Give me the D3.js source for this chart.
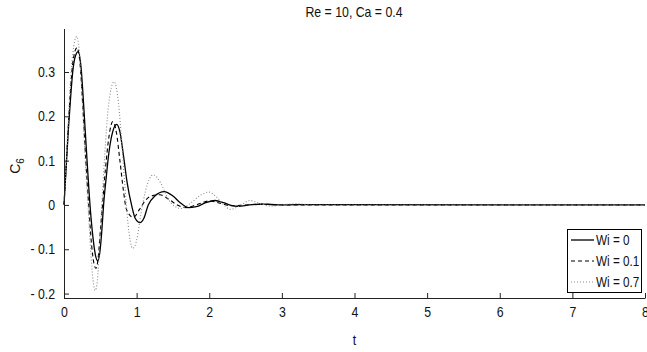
<!DOCTYPE html>
<html><head><meta charset="utf-8">
<script src="https://cdn.jsdelivr.net/npm/d3@7"></script>
<style>
body{margin:0;background:#fff}
svg{display:block}
text{font-family:"Liberation Sans",Arial,sans-serif;fill:#111}
</style>
</head><body>
<svg id="c" width="647" height="352"></svg>
<script>
// ---- data ----
const title = "Re = 10, Ca = 0.4";
const xTicks = [0,1,2,3,4,5,6,7,8];
const yTicks = [-0.2,-0.1,0,0.1,0.2,0.3];
const yTickLabels = ["- 0.2","- 0.1","0","0.1","0.2","0.3"];
const seriesNames = ["Wi = 0","Wi = 0.1","Wi = 0.7"];

const tWi0 = [0,0.03,0.06,0.09,0.12,0.155,0.197,0.235,0.275,0.31,0.358,0.40,0.435,0.464,0.495,0.52,0.545,0.58,0.62,0.67,0.725,0.77,0.82,0.87,0.93,0.98,1.047,1.10,1.16,1.25,1.38,1.5,1.6,1.71,1.82,1.95,2.08,2.2,2.3,2.4,2.55,2.75,2.95,3.2,8];
const cWi0 = [0,0.085,0.17,0.24,0.30,0.335,0.346,0.31,0.214,0.12,0.0,-0.075,-0.115,-0.126,-0.105,-0.06,0.0,0.06,0.12,0.165,0.182,0.165,0.11,0.05,0.0,-0.03,-0.04,-0.03,0.0,0.02,0.03,0.02,0.005,-0.006,-0.004,0.005,0.01,0.005,-0.001,-0.003,0,0.002,0,0.0005,0];

const tWi01 = [0,0.03,0.06,0.09,0.12,0.18,0.22,0.26,0.30,0.34,0.38,0.41,0.44,0.47,0.50,0.53,0.57,0.62,0.67,0.72,0.77,0.82,0.86,0.955,1.04,1.12,1.2,1.32,1.45,1.56,1.68,1.82,2.0,2.15,2.3,2.5,2.7,3.0,8];
const cWi01 = [0,0.09,0.18,0.26,0.32,0.355,0.32,0.22,0.10,0.0,-0.09,-0.13,-0.143,-0.12,-0.06,0.0,0.08,0.155,0.188,0.165,0.10,0.03,-0.01,-0.028,-0.01,0.01,0.02,0.023,0.012,0.0,-0.006,0.0,0.009,0.004,-0.002,0,0.002,0,0];

const tWi07 = [0,0.03,0.06,0.09,0.12,0.175,0.21,0.25,0.29,0.33,0.37,0.40,0.43,0.46,0.49,0.52,0.56,0.61,0.69,0.75,0.80,0.84,0.88,0.946,1.0,1.06,1.12,1.23,1.33,1.43,1.52,1.62,1.75,1.88,1.99,2.1,2.2,2.29,2.42,2.56,2.7,2.85,3.0,3.2,3.4,8];
const cWi07 = [0,0.09,0.19,0.28,0.34,0.38,0.35,0.24,0.11,0.0,-0.11,-0.17,-0.193,-0.17,-0.09,0.0,0.11,0.22,0.278,0.23,0.13,0.04,-0.04,-0.098,-0.08,-0.02,0.03,0.068,0.05,0.015,-0.003,-0.008,0.005,0.022,0.029,0.018,0.0,-0.01,-0.002,0.01,0.003,-0.003,0,0.003,0,0];

// ---- chart ----
const SX = 0.88; // horizontal squeeze of the reference lettering
const svg = d3.select("#c");
const x = d3.scaleLinear().domain([0,8]).range([64,645]);
const y = d3.scaleLinear().domain([-0.21,0.397]).range([298,29]);

const series = [
  {name:seriesNames[0], t:tWi0,  v:cWi0,  stroke:"#000", w:1.3, dash:null},
  {name:seriesNames[1], t:tWi01, v:cWi01, stroke:"#000", w:1.1, dash:"4,3"},
  {name:seriesNames[2], t:tWi07, v:cWi07, stroke:"#8a8a8a", w:1.1, dash:"1,2"}
];

const line = d3.line().x(d=>x(d[0])).y(d=>y(d[1])).curve(d3.curveMonotoneX);

svg.append("g").selectAll("path").data(series).join("path")
  .attr("d", s => line(s.t.map((t,i)=>[t,s.v[i]])))
  .attr("fill","none")
  .attr("stroke", s=>s.stroke)
  .attr("stroke-width", s=>s.w)
  .attr("stroke-dasharray", s=>s.dash);

function squeeze(sel, k){
  k = k || SX;
  sel.each(function(){
    const e = d3.select(this);
    const x0 = +(e.attr("x")||0);
    e.attr("x", x0/k).attr("transform", `scale(${k},1)`);
  });
}

// axes
const xAxis = d3.axisBottom(x).tickValues(xTicks).tickFormat(d3.format("d"))
  .tickSizeInner(-5).tickSizeOuter(0).tickPadding(9);
const yAxis = d3.axisLeft(y).tickValues(yTicks).tickFormat((d,i)=>yTickLabels[i])
  .tickSizeInner(-5).tickSizeOuter(0).tickPadding(9);

const gx = svg.append("g").attr("transform","translate(0,298)").call(xAxis);
const gy = svg.append("g").attr("transform","translate(64,0)").call(yAxis);
[gx,gy].forEach(g=>{
  g.selectAll("path,line").attr("stroke","#222").attr("stroke-width",1);
  g.selectAll("text").attr("font-size",14).attr("font-family",null).attr("fill","#111").call(squeeze);
});
gy.select(".domain").attr("d","M0.5,29V298.5");
gx.select(".domain").attr("d","M64,0.5H645.5");

// title and labels
svg.append("g").attr("transform","translate(354,17)").append("text")
  .attr("text-anchor","middle").attr("font-size",14).text(title).call(squeeze);
svg.append("g").attr("transform","translate(354.5,345)").append("text")
  .attr("text-anchor","middle").attr("font-size",14).text("t").call(squeeze);
const yl = svg.append("text").attr("transform","translate(20,166) rotate(-90)")
  .attr("text-anchor","middle").attr("font-size",14);
yl.append("tspan").text("C");
yl.append("tspan").attr("font-size",10).attr("dy",4).text("6");

// legend
const lg = svg.append("g").attr("transform","translate(567,229)");
lg.append("rect").attr("x",0.5).attr("y",0.5).attr("width",74).attr("height",63)
  .attr("fill","#fff").attr("stroke","#000").attr("stroke-width",1);
const rows = lg.selectAll("g.row").data(series).join("g").attr("class","row")
  .attr("transform",(d,i)=>`translate(0,${11+i*21})`);
rows.append("line").attr("x1",4).attr("x2",27).attr("y1",0).attr("y2",0)
  .attr("stroke",d=>d.stroke).attr("stroke-width",d=>d.w).attr("stroke-dasharray",d=>d.dash);
rows.append("text").attr("x",29).attr("y",5).attr("font-size",14).text(d=>d.name).call(squeeze, 0.84);
</script>
</body></html>
